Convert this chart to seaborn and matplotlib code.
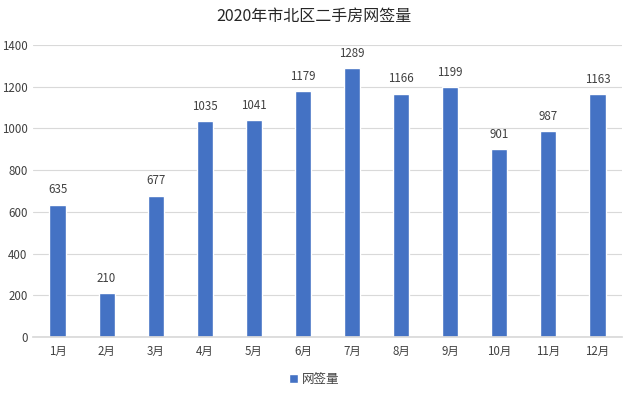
import matplotlib
matplotlib.use("Agg")
import matplotlib.pyplot as plt
import seaborn as sns
import pandas as pd

months = ["1月", "2月", "3月", "4月", "5月", "6月", "7月", "8月", "9月", "10月", "11月", "12月"]
values = [635, 210, 677, 1035, 1041, 1179, 1289, 1166, 1199, 901, 987, 1163]
series_name = "网签量"
title = "2020年市北区二手房网签量"

sns.set_theme(style="white")
plt.rcParams['font.family'] = ['Noto Sans CJK SC', 'DejaVu Sans']

df = pd.DataFrame({"month": months, "value": values, "series": series_name})

fig = plt.figure(figsize=(6.28, 3.94), dpi=100)
ax = fig.add_axes([33/628, 1-337/394, 589/628, (337-45)/394])

sns.barplot(data=df, x="month", y="value", hue="series", palette=["#4472C4"],
            width=0.33, ax=ax, legend=True, saturation=1)

ax.set_ylim(0, 1400)
ax.set_yticks(range(0, 1401, 200))
ax.set_xlim(-0.5, 11.5)
ax.yaxis.grid(True, color="#D9D9D9", linewidth=0.8)
ax.set_axisbelow(True)
for s in ["top", "right", "left"]:
    ax.spines[s].set_visible(False)
ax.spines["bottom"].set_color("#D9D9D9")
ax.set_xlabel("")
ax.set_ylabel("")
ax.tick_params(axis="both", length=0, labelsize=8.3, colors="#404040")
ax.tick_params(axis="x", pad=6)
ax.tick_params(axis="y", pad=4)

for c in ax.containers:
    ax.bar_label(c, labels=[str(v) for v in values], padding=6, fontsize=8.3, color="#404040")

fig.text(0.5, 1-16/394, title, ha="center", va="center", fontsize=11.5, color="#262626")

leg = ax.legend(loc="center", bbox_to_anchor=(0.5, (394-379)/394), bbox_transform=fig.transFigure,
                frameon=False, fontsize=9, handlelength=0.7, handleheight=0.7, handletextpad=0.3)
for t in leg.get_texts():
    t.set_color("#404040")

fig.savefig("out.png", dpi=100)
